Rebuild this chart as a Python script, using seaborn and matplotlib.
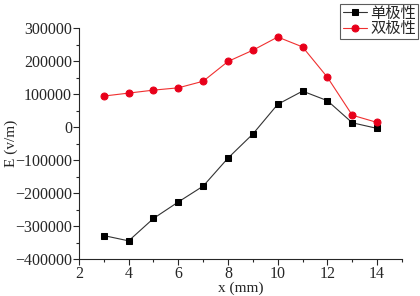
import pandas as pd
import matplotlib
matplotlib.use('Agg')
import matplotlib.pyplot as plt
import seaborn as sns
from matplotlib.ticker import MultipleLocator

# dados
x_mm = [3, 4, 5, 6, 7, 8, 9, 10, 11, 12, 13, 14]
e_unipolar = [-329000, -345000, -277000, -227000, -179000, -94000, -21000,
              69000, 109000, 80000, 13000, -4000]
e_bipolar = [94000, 103000, 112000, 119000, 139000, 199000, 233000,
             273000, 243000, 151000, 36000, 14000]
nomes = ['单极性', '双极性']

df = pd.DataFrame({
    'x': x_mm * 2,
    'E': e_unipolar + e_bipolar,
    'tipo': [nomes[0]] * len(x_mm) + [nomes[1]] * len(x_mm),
})

sns.set_style('ticks')
plt.rcParams['font.family'] = ['Liberation Serif', 'Noto Sans CJK SC']

fig = plt.figure(figsize=(4.2, 2.96), dpi=100)
ax = fig.add_axes([0.188, 0.125, 0.769, 0.78])

sns.lineplot(data=df, x='x', y='E', hue='tipo', style='tipo',
             palette={nomes[0]: '#333333', nomes[1]: '#f03030'},
             markers={nomes[0]: 's', nomes[1]: 'o'}, dashes=False,
             markersize=5, linewidth=0.8, ax=ax, legend=False)

# cor dos marcadores
for linha, cor in zip(ax.lines, ['black', '#e8001a']):
    linha.set_markerfacecolor(cor)
    linha.set_markeredgecolor(cor)

ax.set_xlim(2, 15)
ax.set_ylim(-400000, 300000)
ax.set_xticks([2, 4, 6, 8, 10, 12, 14])
ax.xaxis.set_minor_locator(MultipleLocator(1))
ax.yaxis.set_major_locator(MultipleLocator(100000))
ax.yaxis.set_minor_locator(MultipleLocator(50000))
ax.tick_params(axis='both', which='major', length=4, width=0.8, labelsize=11.5, pad=1)
ax.tick_params(axis='both', which='minor', length=2, width=0.8)
ax.set_xlabel('x (mm)', fontsize=11, labelpad=0)
ax.set_ylabel('E (v/m)', fontsize=11)
ax.yaxis.set_label_coords(-0.19, 0.5)
sns.despine(ax=ax)

handles = [ax.lines[0], ax.lines[1]]
leg = fig.legend(handles, nomes, loc='upper right', bbox_to_anchor=(0.996, 0.985),
                 fontsize=11, frameon=True, fancybox=False, borderpad=0.15,
                 handlelength=1.6, handletextpad=0.2, labelspacing=0.1,
                 borderaxespad=0)
leg.get_frame().set_edgecolor('#333333')
leg.get_frame().set_linewidth(0.8)

fig.savefig('out.png', dpi=100)
